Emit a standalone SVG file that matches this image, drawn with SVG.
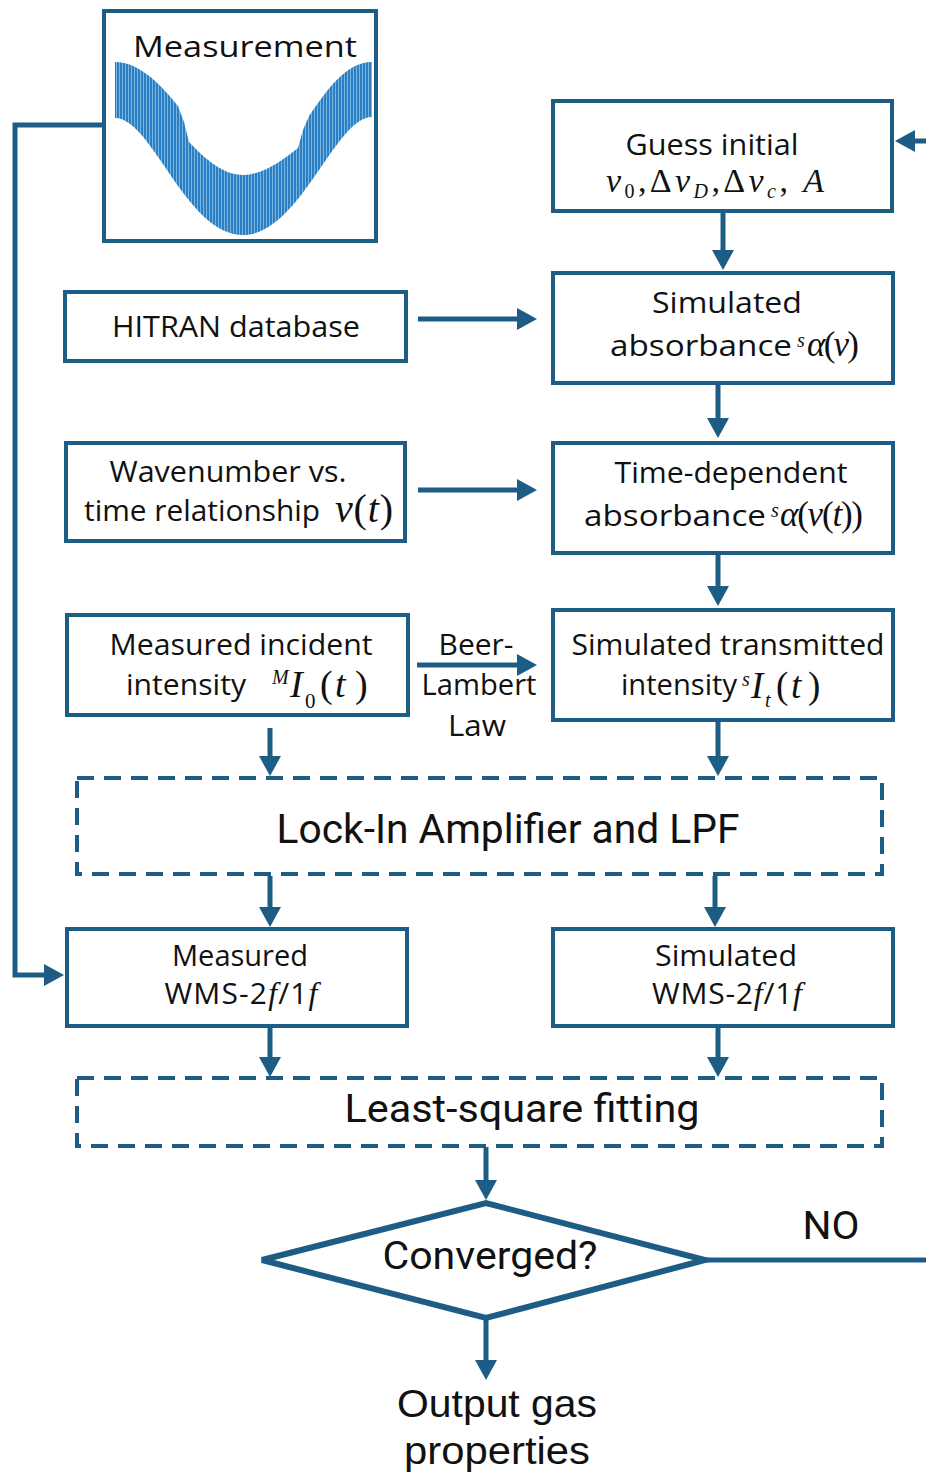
<svg xmlns="http://www.w3.org/2000/svg" width="926" height="1474" viewBox="0 0 926 1474">
<defs>
<style>
.box{fill:#fff;stroke:#1d5d85;stroke-width:4}
.dash{fill:none;stroke:#1d5d85;stroke-width:4;stroke-dasharray:17 10}
.conn{fill:none;stroke:#1d5d85;stroke-width:5}
.t{font-family:"Open Sans","Liberation Sans",sans-serif;font-size:30px;fill:#111;text-anchor:middle}
.ts{font-family:"Open Sans","Liberation Sans",sans-serif;font-size:30px;fill:#111}
.c{font-family:Roboto,"Liberation Sans",sans-serif;fill:#111;text-anchor:middle}
.o{font-family:"Liberation Sans",Arial,sans-serif;font-size:39px;fill:#111;text-anchor:middle}
.m{font-family:"Liberation Serif","Times New Roman",serif;fill:#111}
.i{font-style:italic}
.fi{font-family:"Liberation Serif","Times New Roman",serif;font-style:italic;font-size:32px}
.sup{font-family:"Liberation Serif","Times New Roman",serif;font-style:italic;font-size:20px;fill:#111}
</style>
<marker id="ah" markerUnits="userSpaceOnUse" viewBox="0 0 20 22" markerWidth="20" markerHeight="22" refX="10" refY="11" orient="auto"><path d="M0,0L20,11L0,22z" fill="#1d5d85"/></marker>
<pattern id="wv" patternUnits="userSpaceOnUse" width="3" height="8"><rect width="3" height="8" fill="#79b3e0"/><rect width="2" height="8" fill="#2a80c2"/></pattern>
</defs>
<rect width="926" height="1474" fill="#fff"/>

<g id="connectors">
<path class="conn" marker-end="url(#ah)" d="M104,125H15V975H54"/>
<path class="conn" marker-end="url(#ah)" d="M723,212V260"/>
<path class="conn" marker-end="url(#ah)" d="M418,319H527"/>
<path class="conn" marker-end="url(#ah)" d="M718,383V428"/>
<path class="conn" marker-end="url(#ah)" d="M418,490H527"/>
<path class="conn" marker-end="url(#ah)" d="M718,553V596"/>
<path class="conn" marker-end="url(#ah)" d="M417,665H527"/>
<path class="conn" marker-end="url(#ah)" d="M270,728V766"/>
<path class="conn" marker-end="url(#ah)" d="M718,721V766"/>
<path class="conn" marker-end="url(#ah)" d="M270,876V917"/>
<path class="conn" marker-end="url(#ah)" d="M715,876V917"/>
<path class="conn" marker-end="url(#ah)" d="M270,1027V1067"/>
<path class="conn" marker-end="url(#ah)" d="M718,1026V1067"/>
<path class="conn" marker-end="url(#ah)" d="M486,1147V1190"/>
<path class="conn" marker-end="url(#ah)" d="M486,1320V1370"/>
<path class="conn" marker-end="url(#ah)" d="M705,1260H945V141H905"/>
</g>

<g id="measurement">
<rect class="box" x="104" y="11" width="272" height="230"/>
<path fill="url(#wv)" d="M115,62C140,62 162,86 178,106L184,122L189,142C206,160 224,175 243,175C263,175 283,160 298,148L303,130L309,116C326,92 345,62 372,62L372,117C335,117 300,235 243,235C186,235 152,118 115,118Z"/>
<text class="t" x="245" y="57" textLength="224" lengthAdjust="spacingAndGlyphs">Measurement</text>
</g>

<g id="guess-initial">
<rect class="box" x="553" y="101" width="339" height="110"/>
<text class="t" x="712" y="155" textLength="173" lengthAdjust="spacingAndGlyphs">Guess initial</text>
<text class="m" x="606" y="192" style="font-size:34px" textLength="218" lengthAdjust="spacing"><tspan class="i">v</tspan><tspan font-size="20" dy="6">0</tspan><tspan dy="-6">,Δ</tspan><tspan class="i">v</tspan><tspan class="i" font-size="20" dy="6">D</tspan><tspan dy="-6">,Δ</tspan><tspan class="i">v</tspan><tspan class="i" font-size="20" dy="6">c</tspan><tspan dy="-6">, </tspan><tspan class="i">A</tspan></text>
</g>

<g id="hitran">
<rect class="box" x="65" y="292" width="341" height="69"/>
<text class="t" x="236" y="337" textLength="248" lengthAdjust="spacingAndGlyphs">HITRAN database</text>
</g>

<g id="simulated-absorbance">
<rect class="box" x="553" y="273" width="340" height="110"/>
<text class="t" x="727" y="313" textLength="150" lengthAdjust="spacingAndGlyphs">Simulated</text>
<text class="ts" x="610" y="356" textLength="182" lengthAdjust="spacingAndGlyphs">absorbance</text>
<text class="sup" x="797" y="347">s</text>
<text class="m" x="807" y="356" style="font-size:35px" textLength="52" lengthAdjust="spacing"><tspan class="i">α</tspan>(<tspan class="i">v</tspan>)</text>
</g>

<g id="wavenumber">
<rect class="box" x="66" y="443" width="339" height="98"/>
<text class="t" x="228" y="482" textLength="237" lengthAdjust="spacingAndGlyphs">Wavenumber vs.</text>
<text class="ts" x="84" y="521" textLength="236" lengthAdjust="spacingAndGlyphs">time relationship</text>
<text class="m" x="335" y="522" style="font-size:40px" textLength="58" lengthAdjust="spacing"><tspan class="i">v</tspan>(<tspan class="i">t</tspan>)</text>
</g>

<g id="time-dependent">
<rect class="box" x="553" y="443" width="340" height="110"/>
<text class="t" x="731" y="483" textLength="233" lengthAdjust="spacingAndGlyphs">Time-dependent</text>
<text class="ts" x="584" y="526" textLength="182" lengthAdjust="spacingAndGlyphs">absorbance</text>
<text class="sup" x="771" y="517">s</text>
<text class="m" x="780" y="526" style="font-size:35px" textLength="83" lengthAdjust="spacing"><tspan class="i">α</tspan>(<tspan class="i">v</tspan>(<tspan class="i">t</tspan>))</text>
</g>

<g id="measured-incident">
<rect class="box" x="67" y="615" width="341" height="100"/>
<text class="t" x="241" y="655" textLength="263" lengthAdjust="spacingAndGlyphs">Measured incident</text>
<text class="ts" x="126" y="695" textLength="120" lengthAdjust="spacingAndGlyphs">intensity</text>
<text class="sup" x="272" y="684">M</text>
<text class="m" style="font-size:38px"><tspan class="i" x="290" y="697">I</tspan><tspan x="305" y="708" font-size="21">0</tspan><tspan x="320" y="697">(</tspan><tspan class="i" x="335" y="697">t</tspan><tspan x="355" y="697">)</tspan></text>
</g>

<g id="beer-lambert-label">
<text class="t" x="476" y="655" textLength="75" lengthAdjust="spacingAndGlyphs">Beer-</text>
<text class="t" x="479" y="695" textLength="115" lengthAdjust="spacingAndGlyphs">Lambert</text>
<text class="t" x="477" y="736" textLength="58" lengthAdjust="spacingAndGlyphs">Law</text>
</g>

<g id="simulated-transmitted">
<rect class="box" x="553" y="610" width="340" height="110"/>
<text class="t" x="728" y="655" textLength="313" lengthAdjust="spacingAndGlyphs">Simulated transmitted</text>
<text class="ts" x="621" y="695" textLength="116" lengthAdjust="spacingAndGlyphs">intensity</text>
<text class="sup" x="742" y="686">s</text>
<text class="m" style="font-size:37px"><tspan class="i" x="751" y="698">I</tspan><tspan class="i" x="765" y="707" font-size="20">t</tspan><tspan x="776" y="698">(</tspan><tspan class="i" x="791" y="698">t</tspan><tspan x="808" y="698">)</tspan></text>
</g>

<g id="lock-in">
<rect class="dash" x="77" y="778" width="805" height="96"/>
<text class="c" x="508" y="843" font-size="40" textLength="463" lengthAdjust="spacingAndGlyphs">Lock-In Amplifier and LPF</text>
</g>

<g id="measured-wms">
<rect class="box" x="67" y="929" width="340" height="97"/>
<text class="t" x="240" y="966" textLength="136" lengthAdjust="spacingAndGlyphs">Measured</text>
<text class="t" x="241" y="1004" textLength="153" lengthAdjust="spacing">WMS-2<tspan class="fi">f</tspan>/1<tspan class="fi">f</tspan></text>
</g>

<g id="simulated-wms">
<rect class="box" x="553" y="929" width="340" height="97"/>
<text class="t" x="726" y="966" textLength="142" lengthAdjust="spacingAndGlyphs">Simulated</text>
<text class="t" x="727" y="1004" textLength="150" lengthAdjust="spacing">WMS-2<tspan class="fi">f</tspan>/1<tspan class="fi">f</tspan></text>
</g>

<g id="least-square">
<rect class="dash" x="77" y="1078" width="805" height="68"/>
<text class="c" x="522" y="1122" font-size="39" textLength="355" lengthAdjust="spacingAndGlyphs">Least-square fitting</text>
</g>

<g id="converged">
<polygon points="262,1260 486,1203 705,1260 486,1318" fill="#fff" stroke="#1d5d85" stroke-width="6"/>
<text class="c" x="490" y="1269" font-size="39" textLength="215" lengthAdjust="spacingAndGlyphs">Converged?</text>
</g>

<g id="no-label">
<text class="c" x="831" y="1239" font-size="39" textLength="57" lengthAdjust="spacingAndGlyphs">NO</text>
</g>

<g id="output">
<text class="o" x="497" y="1417" textLength="200" lengthAdjust="spacingAndGlyphs">Output gas</text>
<text class="o" x="497" y="1464" textLength="186" lengthAdjust="spacingAndGlyphs">properties</text>
</g>
</svg>
